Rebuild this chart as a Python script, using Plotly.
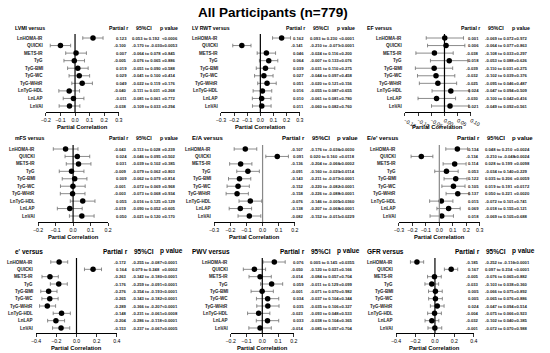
import plotly.graph_objects as go

W, H = 550, 353
FONT = "Liberation Sans, Arial, sans-serif"

labels = ["LnHOMA-IR", "QUICKI", "METS-IR", "TyG", "TyG-BMI", "TyG-WC",
          "TyG-WHtR", "LnTyG-HDL", "LnLAP", "LnVAI"]

# ---- data (partial r, 95% CI low, 95% CI high, p) ----
lvmi_r = [0.123, -0.100, 0.007, -0.005, 0.019, 0.029, 0.049, -0.040, -0.011, -0.038]
lvmi_lo = [0.053, -0.170, -0.064, -0.076, -0.051, -0.041, -0.022, -0.111, -0.081, -0.109]
lvmi_hi = [0.192, -0.030, 0.078, 0.065, 0.090, 0.100, 0.119, 0.031, 0.061, 0.033]
lvmi_p = ["<0.0006", "=0.0053", "=0.845", "=0.886", "=0.588", "=0.414", "=0.176", "=0.268", "=0.772", "=0.294"]

rwt_r = [0.162, -0.141, 0.046, 0.064, 0.039, 0.027, 0.051, 0.016, 0.010, 0.011]
rwt_lo = [0.093, -0.210, -0.024, -0.007, -0.031, -0.044, -0.020, -0.055, -0.061, -0.060]
rwt_hi = [0.230, -0.071, 0.116, 0.133, 0.110, 0.097, 0.121, 0.087, 0.081, 0.082]
rwt_p = ["<0.0001", "<0.0001", "=0.200", "=0.076", "=0.275", "=0.458", "=0.156", "=0.655", "=0.780", "=0.760"]

ef_r = [0.001, 0.006, -0.038, 0.018, -0.039, -0.032, -0.025, 0.024, -0.030, 0.021]
ef_lo = [-0.069, -0.064, -0.108, -0.053, -0.110, -0.102, -0.095, -0.047, -0.100, -0.049]
ef_hi = [0.072, 0.077, 0.033, 0.088, 0.031, 0.039, 0.046, 0.094, 0.042, 0.092]
ef_p = ["=0.972", "=0.863", "=0.297", "=0.626", "=0.275", "=0.376", "=0.487", "=0.509", "=0.416", "=0.561"]

mfs_r = [-0.043, 0.024, 0.031, -0.009, 0.009, -0.001, -0.003, 0.055, -0.019, 0.050]
mfs_lo = [-0.113, -0.046, -0.039, -0.079, -0.062, -0.072, -0.073, -0.016, -0.090, -0.021]
mfs_hi = [0.028, 0.095, 0.102, 0.062, 0.079, 0.069, 0.068, 0.125, 0.052, 0.120]
mfs_p = ["=0.239", "=0.502", "=0.385", "=0.803", "=0.814", "=0.968", "=0.934", "=0.129", "=0.605", "=0.170"]

ea_r = [-0.107, 0.091, -0.136, -0.091, -0.143, -0.152, -0.158, -0.076, -0.138, -0.082]
ea_lo = [-0.176, 0.020, -0.204, -0.160, -0.211, -0.220, -0.226, -0.146, -0.207, -0.152]
ea_hi = [-0.036, 0.160, -0.066, -0.020, -0.073, -0.082, -0.088, -0.005, -0.068, -0.011]
ea_p = ["=0.0030", "=0.0118", "=0.0002", "=0.0114", "<0.0001", "<0.0001", "<0.0001", "=0.0360", "=0.0001", "=0.0229"]

ee_r = [0.134, -0.134, 0.114, 0.053, 0.122, 0.105, 0.137, 0.015, 0.069, 0.018]
ee_lo = [0.048, -0.210, 0.028, -0.034, 0.035, 0.019, 0.050, -0.072, -0.018, -0.069]
ee_hi = [0.210, -0.048, 0.199, 0.140, 0.206, 0.191, 0.221, 0.101, 0.155, 0.105]
ee_p = ["=0.0024", "=0.0024", "=0.0098", "=0.229", "=0.0059", "=0.0172", "=0.0020", "=0.741", "=0.121", "=0.688"]

ep_r = [-0.172, 0.164, -0.263, -0.176, -0.276, -0.265, -0.289, -0.148, -0.204, -0.153]
ep_lo = [-0.255, 0.079, -0.342, -0.259, -0.354, -0.343, -0.366, -0.231, -0.286, -0.237]
ep_hi = [-0.087, 0.248, -0.180, -0.091, -0.193, -0.182, -0.207, -0.061, -0.118, -0.067]
ep_p = ["<0.0001", "=0.0002", "<0.0001", "<0.0001", "<0.0001", "<0.0001", "<0.0001", "=0.0008", "<0.0001", "=0.0005"]

pwv_r = [0.076, -0.050, -0.014, 0.059, -0.001, 0.034, 0.035, -0.023, 0.033, -0.014]
pwv_lo = [0.005, -0.120, -0.084, -0.011, -0.071, -0.037, -0.035, -0.093, -0.038, -0.085]
pwv_hi = [0.145, 0.021, 0.057, 0.129, 0.070, 0.104, 0.106, 0.048, 0.104, 0.057]
pwv_p = ["=0.0355", "=0.166", "=0.704", "=0.099", "=0.982", "=0.344", "=0.327", "=0.533", "=0.365", "=0.704"]

gfr_r = [-0.185, 0.167, -0.005, -0.033, 0.005, 0.005, 0.024, -0.004, -0.032, -0.001]
gfr_lo = [-0.252, 0.097, -0.076, -0.103, -0.066, -0.065, -0.047, -0.075, -0.102, -0.072]
gfr_hi = [-0.116, 0.234, 0.065, 0.038, 0.075, 0.076, 0.094, 0.066, 0.040, 0.070]
gfr_p = ["<0.0001", "<0.0001", "=0.882", "=0.360", "=0.892", "=0.886", "=0.514", "=0.923", "=0.385", "=0.988"]

# ---- panel layout (pixel geometry) ----
rows_px = [(28, 38, 106, 112), (138, 149, 216, 222), (251, 262, 328, 333)]  # header, first row, last row, axis
cols_px = [0, 182, 362]

panels = [
    dict(title="LVMI versus", r=lvmi_r, lo=lvmi_lo, hi=lvmi_hi, p=lvmi_p, rng=[-0.2, 0.3], dt=0.1, fmt=".1f", px=(42, 117), row=0, col=0, zc="black", hs=5.2),
    dict(title="LV RWT versus", r=rwt_r, lo=rwt_lo, hi=rwt_hi, p=rwt_p, rng=[-0.3, 0.3], dt=0.1, fmt=".1f", px=(222, 303), row=0, col=1, zc="black", hs=5.2),
    dict(title="EF versus", r=ef_r, lo=ef_lo, hi=ef_hi, p=ef_p, rng=[-0.15, 0.10], dt=0.05, fmt=".2f", px=(411, 479), row=0, col=2, zc="black", hs=5.2),
    dict(title="mFS versus", r=mfs_r, lo=mfs_lo, hi=mfs_hi, p=mfs_p, rng=[-0.2, 0.2], dt=0.1, fmt=".1f", px=(34, 106), row=1, col=0, zc="black", hs=5.2),
    dict(title="E/A versus", r=ea_r, lo=ea_lo, hi=ea_hi, p=ea_p, rng=[-0.3, 0.2], dt=0.1, fmt=".1f", px=(215, 298), row=1, col=1, zc="#888888", hs=6),
    dict(title="E/e' versus", r=ee_r, lo=ee_lo, hi=ee_hi, p=ee_p, rng=[-0.3, 0.3], dt=0.1, fmt=".1f", px=(405, 488), row=1, col=2, zc="#888888", hs=6),
    dict(title="e' versus", r=ep_r, lo=ep_lo, hi=ep_hi, p=ep_p, rng=[-0.4, 0.4], dt=0.2, fmt=".1f", px=(32, 115), row=2, col=0, zc="black", hs=6.5),
    dict(title="PWV versus", r=pwv_r, lo=pwv_lo, hi=pwv_hi, p=pwv_p, rng=[-0.2, 0.2], dt=0.1, fmt=".1f", px=(232, 297), row=2, col=1, zc="black", hs=6.5),
    dict(title="GFR versus", r=gfr_r, lo=gfr_lo, hi=gfr_hi, p=gfr_p, rng=[-0.4, 0.4], dt=0.2, fmt=".1f", px=(402, 482), row=2, col=2, zc="black", hs=6.5),
]

fig = go.Figure()
annotations = []
shapes = []
layout_axes = {}

def fx(px):
    return px / W

def fy(py):
    return 1 - py / H

annotations.append(dict(text="<b>All Participants (n=779)</b>", x=0.5, y=fy(12), xref="paper", yref="paper",
                        showarrow=False, font=dict(family=FONT, size=13.5, color="black"),
                        xanchor="center", yanchor="middle"))

for i, pn in enumerate(panels, start=1):
    hy, r0, r9, ay = rows_px[pn["row"]]
    cx = cols_px[pn["col"]]
    s = (r9 - r0) / 9.0
    top = r0 - 4
    pad_t = (r0 - top) / s
    pad_b = (ay - r9) / s
    xa = "x" if i == 1 else f"x{i}"
    ya = "y" if i == 1 else f"y{i}"
    xkey = "xaxis" if i == 1 else f"xaxis{i}"
    ykey = "yaxis" if i == 1 else f"yaxis{i}"
    x0, x1 = pn["px"]
    ypos = list(range(len(labels)))
    r = pn["r"]
    ep = [h - v for h, v in zip(pn["hi"], r)]
    em = [v - l for v, l in zip(r, pn["lo"])]
    fig.add_trace(go.Scatter(
        x=r, y=ypos, mode="markers", xaxis=xa, yaxis=ya, showlegend=False,
        marker=dict(color="black", size=5.5),
        error_x=dict(type="data", array=ep, arrayminus=em, color="#6e6e6e", thickness=0.8, width=1.8),
        hoverinfo="skip"))
    ticks = []
    v = pn["rng"][0]
    while v <= pn["rng"][1] + 1e-9:
        ticks.append(round(v, 4))
        v += pn["dt"]
    layout_axes[xkey] = dict(domain=[fx(x0), fx(x1)], range=pn["rng"], anchor=ya,
                             tickvals=ticks, tickformat=pn["fmt"], showgrid=False, zeroline=False,
                             showline=True, linecolor="black", linewidth=1, ticks="outside",
                             ticklen=2.5, tickwidth=0.8, tickcolor="black",
                             tickfont=dict(family=FONT, size=5.2, color="black"), fixedrange=True)
    layout_axes[ykey] = dict(domain=[fy(ay), fy(top)], range=[9 + pad_b, -pad_t], anchor=xa,
                             visible=False, showgrid=False, zeroline=False, fixedrange=True)
    shapes.append(dict(type="line", xref=xa, yref=f"{ya} domain", x0=0, x1=0, y0=0, y1=1,
                       line=dict(color=pn["zc"], width=1.2)))
    # header
    hf = dict(family=FONT, size=pn["hs"], color="black")
    annotations.append(dict(text="<b>" + pn["title"] + "</b>", x=fx(cx + 8), y=fy(hy), xref="paper", yref="paper",
                            xanchor="left", yanchor="middle", showarrow=False, font=hf))
    annotations.append(dict(text="<b>Partial r</b>", x=fx(cx + 128), y=fy(hy), xref="paper", yref="paper",
                            xanchor="right", yanchor="middle", showarrow=False, font=hf))
    annotations.append(dict(text="<b>95%CI</b>", x=fx(cx + 143), y=fy(hy), xref="paper", yref="paper",
                            xanchor="center", yanchor="middle", showarrow=False, font=hf))
    annotations.append(dict(text="<b>p value</b>", x=fx(cx + 157), y=fy(hy), xref="paper", yref="paper",
                            xanchor="left", yanchor="middle", showarrow=False, font=hf))
    # axis title
    annotations.append(dict(text="<b>Partial Correlation</b>", x=fx((x0 + x1) / 2), y=fy(ay + 15), xref="paper",
                            yref="paper", xanchor="center", yanchor="middle", showarrow=False,
                            font=dict(family=FONT, size=5.8, color="black")))
    vf = dict(family=FONT, size=4.2, color="#222222")
    for j, lab in enumerate(labels):
        annotations.append(dict(text="<b>" + lab + "</b>", x=fx(x0 - 1), y=j, xref="paper", yref=ya,
                                xanchor="right", yanchor="middle", showarrow=False,
                                font=dict(family=FONT, size=4.5, color="#222222")))
        annotations.append(dict(text="<b>%.3f</b>" % r[j], x=fx(cx + 127), y=j, xref="paper", yref=ya,
                                xanchor="right", yanchor="middle", showarrow=False, font=vf))
        annotations.append(dict(text="<b>%.3f to %.3f</b>" % (pn["lo"][j], pn["hi"][j]), x=fx(cx + 129), y=j,
                                xref="paper", yref=ya, xanchor="left", yanchor="middle", showarrow=False, font=vf))
        annotations.append(dict(text="<b>" + pn["p"][j] + "</b>", x=fx(cx + 159), y=j, xref="paper", yref=ya,
                                xanchor="left", yanchor="middle", showarrow=False, font=vf))

fig.update_layout(width=W, height=H, margin=dict(l=0, r=0, t=0, b=0), plot_bgcolor="white",
                  paper_bgcolor="white", annotations=annotations, shapes=shapes, **layout_axes)
fig.write_html("out.html", config={"displayModeBar": False, "staticPlot": True},
               post_script="document.body.style.margin='0';document.body.style.overflow='hidden';")
